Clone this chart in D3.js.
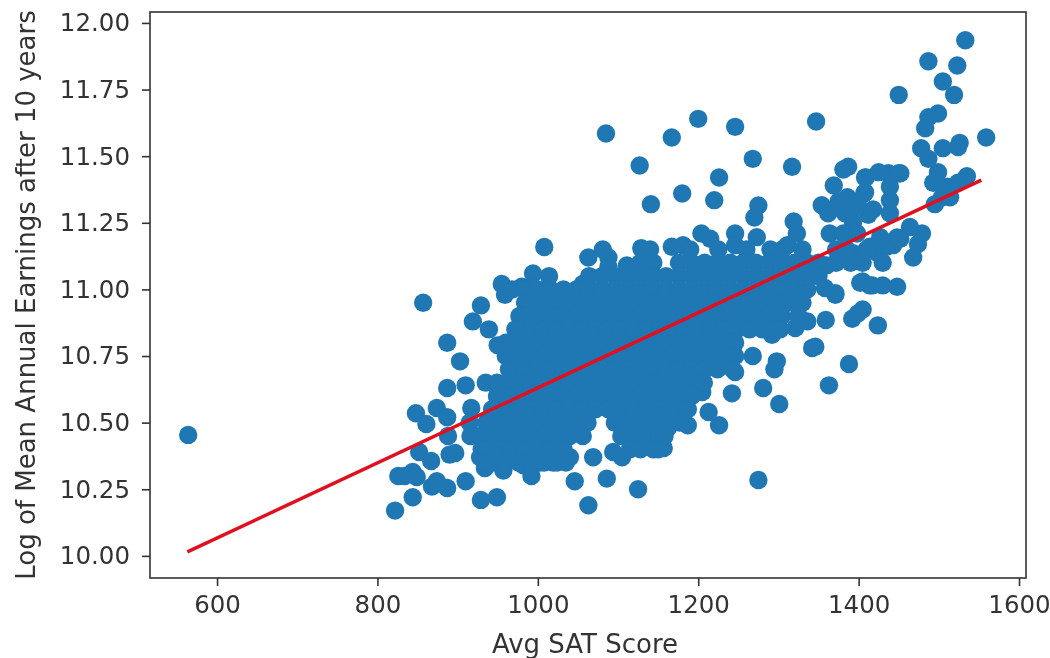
<!DOCTYPE html>
<html>
<head>
<meta charset="utf-8">
<script src="https://cdnjs.cloudflare.com/ajax/libs/d3/7.8.5/d3.min.js"></script>
<style>
  html, body { margin: 0; padding: 0; background: #fff; }
  svg { filter: blur(0.5px); }
  text { font-family: "DejaVu Sans", sans-serif; fill: #333; }
</style>
</head>
<body>
<div id="chart"></div>
<script>
var xTicks = [600, 800, 1000, 1200, 1400, 1600];
var yTicks = [10.00, 10.25, 10.50, 10.75, 11.00, 11.25, 11.50, 11.75, 12.00];
var xLabel = "Avg SAT Score";
var yLabel = "Log of Mean Annual Earnings after 10 years";

// regression line end points
var fitScores = [563, 1553];
var fitEarnings = [10.015, 11.41];

// points that can be told apart around the edge of the cloud: [score, log earnings]
var edgePoints = [
  [564,10.454],[857,10.95],[1008,11.159],[1063,11.12],[1081,11.15],[1088,11.12],[1088,11.085],
  [1129,11.155],[1111,11.09],[955,11.02],[959,10.98],[980,11.01],[994,11.06],[1014,11.05],
  [993,11.005],[1056,11.02],[929,10.94],[919,10.88],[939,10.85],[887,10.80],[903,10.73],[950,10.79],
  [887,10.63],[910,10.64],[935,10.65],[949,10.65],[917,10.555],[874,10.555],[848,10.535],[861,10.495],
  [887,10.52],[888,10.45],[852,10.39],[867,10.356],[890,10.38],[897,10.386],[826,10.30],[834,10.30],
  [844,10.315],[849,10.296],[868,10.26],[874,10.28],[887,10.255],[910,10.28],[844,10.22],[822,10.17],
  [929,10.21],[949,10.22],[992,10.30],[1046,10.28],[1069,10.37],[1086,10.29],[1063,10.19],[1125,10.25],
  [1105,10.37],[934,10.33],[957,10.32],[928,10.37],[1040,10.37],[1019,10.35],[1003,10.35],[982,10.34],
  [1094,10.39],[1157,10.405],[1226,10.49],[1213,10.54],[1187,10.49],[1162,10.48],[1275,10.285],
  [1301,10.57],[1281,10.63],[1242,10.61],[1205,10.615],[1363,10.64],[1388,10.72],[1295,10.70],
  [1298,10.73],[1268,10.75],[1342,10.78],[1346,10.785],[1246,10.69],[1292,10.83],[1321,10.855],
  [1336,10.88],[1359,10.885],[1392,10.89],[1405,10.925],[1399,10.91],[1424,10.865],[1371,10.98],
  [1448,11.01],[1430,11.015],[1414,11.015],[1402,11.025],[1200,11.64],[1167,11.57],[1246,11.61],
  [1347,11.63],[1085,11.585],[1127,11.465],[1268,11.49],[1317,11.46],[1226,11.42],[1180,11.36],
  [1141,11.32],[1220,11.335],[1275,11.315],[1270,11.27],[1319,11.255],[1204,11.21],[1215,11.19],
  [1246,11.21],[1181,11.166],[1167,11.16],[1246,11.166],[1273,11.196],[1311,11.166],[1323,11.21],
  [1387,11.46],[1381,11.45],[1409,11.42],[1437,11.436],[1450,11.436],[1369,11.39],[1407,11.36],
  [1439,11.385],[1439,11.335],[1386,11.346],[1354,11.316],[1362,11.286],[1439,11.286],[1383,11.286],
  [1412,11.28],[1393,11.25],[1364,11.21],[1427,11.196],[1464,11.234],[1479,11.21],[1452,11.19],
  [1443,11.166],[1474,11.17],[1468,11.12],[1424,11.136],[1393,11.136],[1405,11.03],[1417,11.015],
  [1358,11.005],[1371,10.986],[1533,11.935],[1487,11.856],[1523,11.84],[1505,11.78],[1519,11.73],
  [1450,11.73],[1499,11.66],[1487,11.646],[1483,11.605],[1478,11.53],[1487,11.49],[1559,11.57],
  [1526,11.55],[1505,11.53],[1524,11.534],[1499,11.44],[1535,11.425],[1493,11.40],[1511,11.385],
  [1524,11.40],[1504,11.346],[1514,11.346],[1495,11.32],[1408,11.42],[1408,11.365],
  [1381,11.21],[1398,11.21],[1414,11.16],[1435,11.16],[1448,11.195],[1386,11.136],
  [1452,11.436],[1425,11.44],[1418,11.30],[1400,11.31],[1375,11.33],[1345,11.06],[1360,11.09]
];

// the packed middle of the cloud, read row by row
var rowEarnings = [11.15, 11.10, 11.05, 11.00, 10.95, 10.90, 10.85, 10.80, 10.75,
  10.70, 10.65, 10.60, 10.55, 10.50, 10.45, 10.40, 10.35];
var rowScores = [
  [1130,1140,1190,1225,1260,1290,1305,1330,1372,1385,1410],
  [1128,1144,1176,1192,1208,1224,1240,1256,1272,1288,1304,1320,1336,1350,1372,1390,1405,1430],
  [1064,1080,1096,1112,1128,1144,1160,1176,1192,1208,1224,1240,1256,1272,1288,1304,1320,1336,1350],
  [968,984,1000,1016,1032,1048,1064,1080,1096,1112,1128,1144,1160,1176,1192,1208,1224,1240,1256,1272,1288,1304,1320,1336],
  [984,992,1008,1024,1040,1056,1072,1088,1104,1120,1136,1152,1168,1184,1200,1216,1232,1248,1264,1280,1296,1312,1330],
  [977,984,1000,1016,1032,1048,1064,1080,1096,1112,1128,1144,1160,1176,1192,1208,1224,1240,1256,1272,1288,1304,1325],
  [972,976,992,1008,1024,1040,1056,1072,1088,1104,1120,1136,1152,1168,1184,1200,1216,1232,1248,1264,1280,1296,1302],
  [960,968,984,1000,1016,1032,1048,1064,1080,1096,1112,1128,1144,1160,1176,1192,1208,1224,1240,1246],
  [960,976,992,1008,1024,1040,1056,1072,1088,1104,1120,1136,1152,1168,1184,1200,1216,1232,1246],
  [964,968,984,1000,1016,1032,1048,1064,1080,1096,1112,1128,1144,1160,1176,1192,1208,1224,1243],
  [960,976,992,1008,1024,1040,1056,1072,1088,1104,1120,1136,1152,1168,1184,1200,1207],
  [949,968,984,1000,1016,1032,1048,1064,1080,1096,1112,1128,1144,1160,1176,1192],
  [943,960,976,992,1008,1024,1040,1056,1072,1088,1104,1120,1136,1152,1168,1187],
  [915,936,952,968,984,1000,1016,1032,1048,1062,1096,1112,1128,1144,1160,1177],
  [916,928,944,960,976,992,1008,1024,1040,1056,1104,1120,1136,1152,1158],
  [930,936,952,968,984,1000,1016,1032,1115,1128,1144,1150],
  [934,944,960,976,992,1008,1024,1035]
];

var width = 1050, height = 658;
var margin = {top: 12, right: 24, bottom: 80, left: 150};

var allPoints = edgePoints.slice();
rowEarnings.forEach(function(e, i) {
  rowScores[i].forEach(function(s) {
    allPoints.push([s, e]);
  });
});

var svg = d3.select("#chart").append("svg")
  .attr("width", width)
  .attr("height", height)
  .style("display", "block");

var x = d3.scaleLinear().domain([516.4, 1608.7]).range([margin.left, width - margin.right]);
var y = d3.scaleLinear().domain([9.917, 12.041]).range([height - margin.bottom, margin.top]);

svg.append("g").selectAll("circle")
  .data(allPoints)
  .enter().append("circle")
  .attr("cx", function(d) { return x(d[0]); })
  .attr("cy", function(d) { return y(d[1]); })
  .attr("r", 9.2)
  .attr("fill", "#1f77b4");

var line = d3.line()
  .x(function(d) { return x(d[0]); })
  .y(function(d) { return y(d[1]); });

svg.append("path")
  .datum(d3.zip(fitScores, fitEarnings))
  .attr("d", line)
  .attr("fill", "none")
  .attr("stroke", "#e0101f")
  .attr("stroke-width", 3.5);

var xAxis = svg.append("g")
  .attr("transform", "translate(0," + (height - margin.bottom) + ")")
  .call(d3.axisBottom(x).tickValues(xTicks).tickFormat(d3.format("d")).tickSize(8).tickPadding(10));
var yAxis = svg.append("g")
  .attr("transform", "translate(" + margin.left + ",0)")
  .call(d3.axisLeft(y).tickValues(yTicks).tickFormat(d3.format(".2f")).tickSize(8).tickPadding(12));

[xAxis, yAxis].forEach(function(a) {
  a.selectAll("text").style("font-size", "24.5px").style("font-family", "DejaVu Sans").attr("fill", "#333");
  a.selectAll("line").attr("stroke", "#333").attr("stroke-width", 1.6);
  a.select(".domain").attr("stroke", "none");
});

// frame on top of the marks
svg.append("rect")
  .attr("x", margin.left)
  .attr("y", margin.top)
  .attr("width", width - margin.left - margin.right)
  .attr("height", height - margin.top - margin.bottom)
  .attr("fill", "none")
  .attr("stroke", "#333")
  .attr("stroke-width", 1.6);

svg.append("text")
  .attr("x", 585)
  .attr("y", 653)
  .attr("text-anchor", "middle")
  .style("font-size", "26px")
  .text(xLabel);

svg.append("text")
  .attr("transform", "translate(35,295) rotate(-90)")
  .attr("text-anchor", "middle")
  .style("font-size", "26px")
  .text(yLabel);
</script>
</body>
</html>
